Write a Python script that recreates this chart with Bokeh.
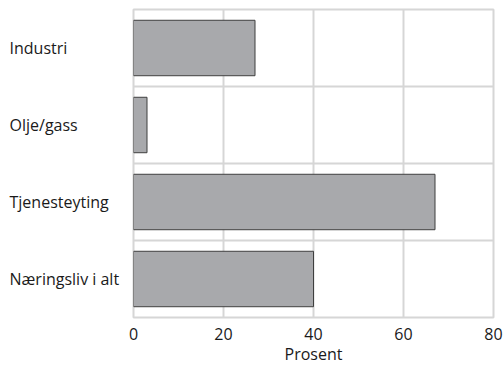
from bokeh.plotting import figure
from bokeh.layouts import row
from bokeh.models import Range1d, FixedTicker, ColumnDataSource
from bokeh.core.properties import value
from bokeh.embed import file_html
from bokeh.resources import INLINE

categories = ["Industri", "Olje/gass", "Tjenesteyting", "Næringsliv i alt"]
values = [27, 3, 67, 40]
x_ticks = [0, 20, 40, 60, 80]
x_label = "Prosent"

n = len(categories)
ypos = [n - 1 - i for i in range(n)]
src = ColumnDataSource(dict(cat=categories, val=values, y=ypos, zero=[0] * n))

FONT = "Open Sans"
FS = "16px"
TXT = "#1a1a1a"
GRID = "#d6d6d6"

y_range = Range1d(-0.5, n - 0.5)
H = 369
MT = 9
MB = 52


def style_xaxis(fig, hidden=False):
    fig.xaxis.ticker = FixedTicker(ticks=x_ticks)
    fig.xaxis.axis_label = x_label
    fig.xaxis.axis_line_color = None
    fig.xaxis.major_tick_line_color = None
    fig.xaxis.minor_tick_line_color = None
    fig.xaxis.major_tick_out = 0
    fig.xaxis.major_tick_in = 0
    fig.xaxis.major_label_standoff = 10
    fig.xaxis.axis_label_standoff = 0
    fig.xaxis.major_label_text_font = FONT
    fig.xaxis.major_label_text_font_size = FS
    fig.xaxis.major_label_text_color = TXT
    fig.xaxis.axis_label_text_font = FONT
    fig.xaxis.axis_label_text_font_size = FS
    fig.xaxis.axis_label_text_font_style = "normal"
    fig.xaxis.axis_label_text_color = TXT
    if hidden:
        fig.xaxis.major_label_text_alpha = 0
        fig.xaxis.axis_label_text_alpha = 0


left = figure(width=128, height=H, x_range=Range1d(0, 80), y_range=y_range,
              output_backend="svg", toolbar_location=None,
              min_border_left=0, min_border_right=0, min_border_top=MT, min_border_bottom=MB)
left.yaxis.visible = False
left.grid.visible = False
left.outline_line_color = None
style_xaxis(left, hidden=True)
left.text(x="zero", y="y", text="cat", source=src, x_offset=9,
          text_font=value(FONT), text_font_size=FS, text_color=TXT,
          text_align="left", text_baseline="middle")

p = figure(width=375, height=H, x_range=Range1d(0, 80), y_range=y_range,
           output_backend="svg", toolbar_location=None,
           min_border_left=5, min_border_right=10, min_border_top=MT, min_border_bottom=MB)
p.yaxis.visible = False
p.hbar(y="y", left="zero", right="val", height=0.72, source=src,
       fill_color="#a8a9ac", line_color="#3f3f3f", line_width=1)
style_xaxis(p)

p.xgrid.ticker = FixedTicker(ticks=x_ticks)
p.xgrid.grid_line_color = GRID
p.xgrid.grid_line_width = 2
p.ygrid.ticker = FixedTicker(ticks=[i + 0.5 for i in range(n - 1)])
p.ygrid.grid_line_color = GRID
p.ygrid.grid_line_width = 2
p.outline_line_color = GRID
p.outline_line_width = 2

layout = row(left, p)
open("out.html", "w").write(file_html(layout, INLINE))
